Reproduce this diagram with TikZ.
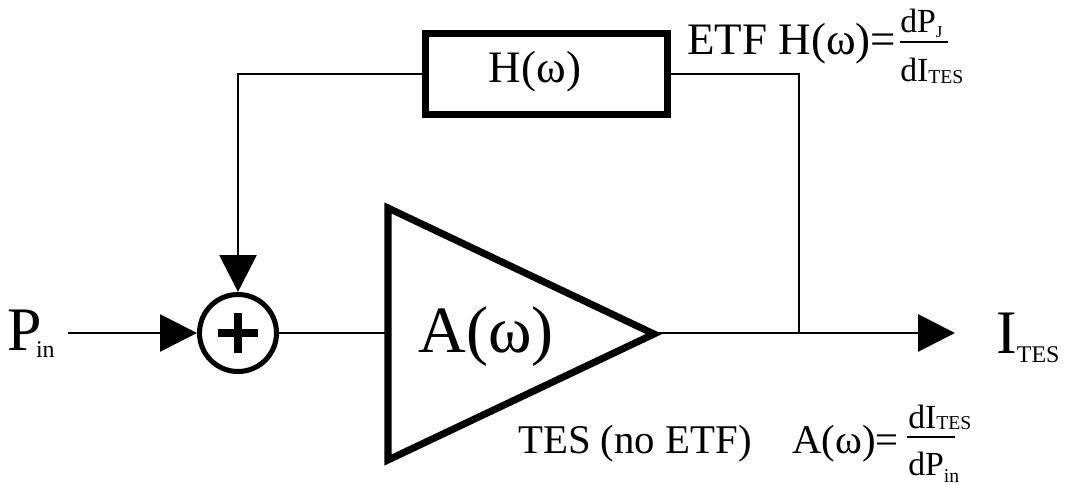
\documentclass[tikz,border=0pt]{standalone}
\usepackage{fontspec}
\setmainfont{Liberation Serif}
\usetikzlibrary{arrows.meta}

\newcommand\fsz[1]{\fontsize{#1}{#1}\selectfont}
% subscript: drop, size, text
\newcommand\lowsub[3]{\raisebox{-#1}{\fsz{#2}#3}}

\begin{document}
\begin{tikzpicture}[x=0.025cm, y=-0.025cm, >={Triangle[length=0.92cm, width=0.92cm]},
  wire/.style={line width=2.1pt},
  blockbox/.style={draw, line width=5pt, minimum width=6.05cm, minimum height=2.025cm, inner sep=0pt},
  sumnode/.style={draw, circle, line width=3.6pt, minimum size=1.925cm, inner sep=0pt},
  lbl/.style={anchor=base west, inner sep=0pt}]
  \useasboundingbox (0,0) rectangle (1070,485);
  % blocks
  \node[sumnode] (sum) at (238,333) {};
  \draw[line width=5.7pt] (sum.center) ++(-20,0) -- ++(40,0);
  \draw[line width=5.7pt] (sum.center) ++(0,-20) -- ++(0,40);
  \draw[line width=5pt] (388,208) -- (654,334) -- (388,460) -- cycle;
  \coordinate (ampin) at (388,333);
  \coordinate (ampout) at (654,333);
  \node[blockbox] (hbox) at (546.5,74) {};
  \node[anchor=base, inner sep=0pt, font=\fsz{32}] (hlabel) at (535,83) {H(ω)};
  \node[lbl, font=\fsz{47}] (alabel) at (418,352) {A(ω)};
  % signals
  \coordinate (pstart) at (68,333);
  \coordinate (tap) at (799,333);
  \coordinate (outend) at (955,333);
  \draw[wire,->] (pstart) -- (sum.west);
  \draw[wire] (sum.east) -- (ampin);
  \draw[wire,->] (ampout) -- (outend);
  \draw[wire] (tap) |- (hbox.east);
  \draw[wire,->] (hbox.west) -| (sum.north);
  % labels
  \node[lbl, font=\fsz{44}] (pin) at (7,350) {P\kern-4pt\lowsub{5.5pt}{17}{in}};
  \node[lbl, font=\fsz{44}] (ites) at (996,353) {I\lowsub{7pt}{17}{TES}};
  \node[lbl, font=\fsz{32}] (etf) at (687,55) {ETF H(ω)=};
  \node[lbl, font=\fsz{24}] (etfnum) at (900,33) {dP\lowsub{3.5pt}{12}{J}};
  \node[lbl, font=\fsz{24}] (etfden) at (900,82) {dI\lowsub{1pt}{14}{TES}};
  \draw[wire] (900,42) -- (948,42);
  \node[lbl, font=\fsz{29}] (tes) at (518,453) {TES (no ETF)\hspace{29pt}A(ω)=};
  \node[lbl, font=\fsz{24}] (tesnum) at (908,428) {dI\lowsub{1pt}{14}{TES}};
  \node[lbl, font=\fsz{24}] (tesden) at (908,475) {dP\lowsub{5pt}{14}{in}};
  \draw[wire] (907,437) -- (955,437);
\end{tikzpicture}
\end{document}
